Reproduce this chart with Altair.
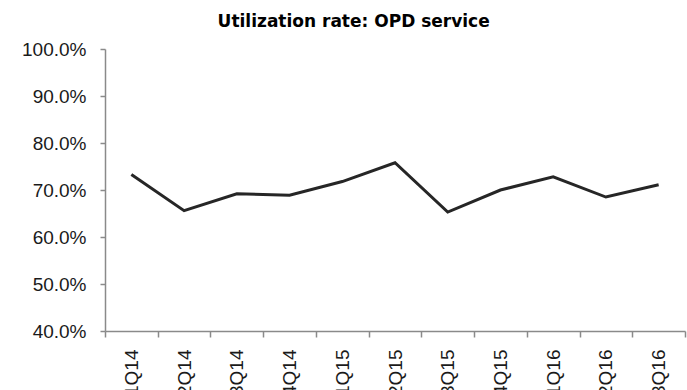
import altair as alt
import pandas as pd

quarters = ["1Q14", "2Q14", "3Q14", "4Q14", "1Q15", "2Q15", "3Q15", "4Q15", "1Q16", "2Q16", "3Q16"]
rates = [0.733, 0.656, 0.692, 0.689, 0.718, 0.758, 0.653, 0.700, 0.728, 0.685, 0.711]
y_ticks = [0.4, 0.5, 0.6, 0.7, 0.8, 0.9, 1.0]

df = pd.DataFrame({"quarter": quarters, "rate": rates})

FONT = "Liberation Sans"

chart = alt.Chart(df).mark_line(color="#262626", strokeWidth=3).encode(
    x=alt.X("quarter:N", sort=quarters,
            scale=alt.Scale(type="band", paddingInner=0, paddingOuter=0),
            axis=alt.Axis(title=None, labelAngle=-90, tickBand="extent",
                          labelFont=FONT, labelFontSize=19, labelColor="#1a1a1a",
                          labelPadding=12, tickSize=6, domainColor="#8a8a8a",
                          tickColor="#8a8a8a", domainWidth=1.5, tickWidth=1.5)),
    y=alt.Y("rate:Q", scale=alt.Scale(domain=[0.4, 1.0], nice=False, zero=False),
            axis=alt.Axis(title=None, format=".1%", values=y_ticks, grid=False,
                          labelFont=FONT, labelFontSize=19, labelColor="#1a1a1a",
                          labelPadding=14, tickSize=5, domainColor="#8a8a8a",
                          tickColor="#8a8a8a", domainWidth=1.5, tickWidth=1.5)),
).properties(
    width=580, height=282,
    title=alt.TitleParams("Utilization rate: OPD service", font="DejaVu Sans",
                          fontSize=17, fontWeight="bold", color="#000000",
                          anchor="middle", frame="bounds", offset=9),
    autosize=alt.AutoSizeParams(type="none"),
    padding={"left": 105, "top": 49, "right": 2, "bottom": 59},
).configure_view(stroke=None)

chart.save("out.html", embed_options={"renderer": "svg", "actions": False})
